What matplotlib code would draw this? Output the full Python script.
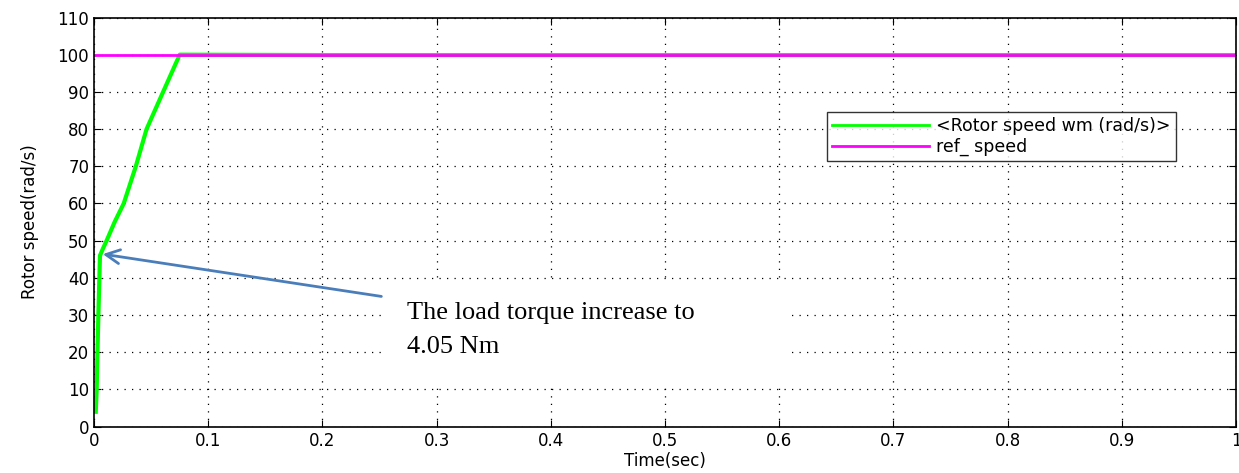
"""Rotor speed response with load torque step (MATLAB-style scope plot)."""
import matplotlib
matplotlib.use("Agg")
import matplotlib.pyplot as plt
import numpy as np

# Rotor speed trace (time in s, speed in rad/s)
t_rotor = [0.0015, 0.0023, 0.003, 0.0038, 0.0045, 0.0052, 0.008, 0.011,
           0.018, 0.026, 0.0366, 0.046, 0.0605, 0.075, 0.2, 0.5, 1.0]
w_rotor = [4, 10, 20, 30, 38, 46, 48, 50, 55, 60, 70, 80, 90, 100,
           99.9, 99.9, 99.9]

# Reference speed
t_ref = [0.0, 1.0]
w_ref = [100, 100]

xticks = np.arange(0, 1.01, 0.1)
xticklabels = ["0", "0.1", "0.2", "0.3", "0.4", "0.5", "0.6", "0.7", "0.8", "0.9", "1"]
yticks = np.arange(0, 111, 10)

fig = plt.figure(figsize=(12.39, 4.73), dpi=100)
ax = fig.add_axes([0.0759, 0.098, 0.9217, 0.865])

ax.plot(t_rotor, w_rotor, color="#00ff00", linewidth=3,
        label="<Rotor speed wm (rad/s)>")
ax.plot(t_ref, w_ref, color="#ff00ff", linewidth=2, label="ref_ speed")

ax.set_xlim(0, 1)
ax.set_ylim(0, 110)
ax.set_xticks(xticks)
ax.set_xticklabels(xticklabels)
ax.set_yticks(yticks)
ax.tick_params(direction="in", top=True, right=True, labelsize=12, length=5)
ax.grid(True, color="black", linestyle=(0, (1, 5)), linewidth=0.9)
for s in ax.spines.values():
    s.set_linewidth(1.2)

ax.set_xlabel("Time(sec)", fontsize=12, labelpad=2)
ax.set_ylabel("Rotor speed(rad/s)", fontsize=12, labelpad=13)

leg = ax.legend(loc="upper left", bbox_to_anchor=(0.634, 0.79), fontsize=12.5,
                handlelength=5.6, frameon=True, fancybox=False,
                borderpad=0.3, labelspacing=0.15, handletextpad=0.4)
leg.get_frame().set_edgecolor("black")
leg.get_frame().set_linewidth(1.0)
for h in leg.get_lines():
    h.set_linewidth(2)

ax.annotate("", xy=(0.0052, 46.5), xytext=(0.254, 34.9),
            arrowprops=dict(arrowstyle="->", color="#4a7ebb", lw=2,
                            mutation_scale=25))
# white patch behind the annotation text (hides the grid, as in the original)
ax.axvspan(0.256, 0.611, ymin=0.107, ymax=0.353, facecolor="white",
           edgecolor="none", zorder=2.5)
ax.text(0.274, 26.0, "The load torque increase to\n4.05 Nm",
        fontsize=19, family="Liberation Serif", va="center", ha="left",
        linespacing=1.75, zorder=3)

fig.savefig("out.png", dpi=100)
